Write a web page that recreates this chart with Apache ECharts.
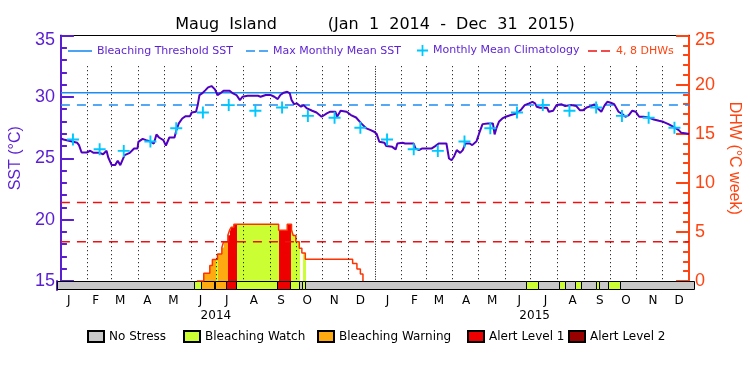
<!DOCTYPE html>
<html><head><meta charset="utf-8">
<script src="https://cdn.jsdelivr.net/npm/echarts@6/dist/echarts.min.js"></script>
<style>html,body{margin:0;padding:0;background:#fff}#c{width:750px;height:375px}</style>
</head><body><div id="c"></div>
<script>
// ---------- data ----------
const titleText = 'Maug  Island          (Jan  1  2014  -  Dec  31  2015)';
const monthLetters = ['J','F','M','A','M','J','J','A','S','O','N','D'];
const monthLengths = [31,28,31,30,31,30,31,31,30,31,30,31];
const years = ['2014','2015'];
const sstTicks = [15,20,25,30,35];
const dhwTicks = [0,5,10,15,20,25];

// SST (day index from Jan 1 2014, deg C)
const sstDays = [0,3,5,13,19,21,24,30,34,38,45,49,53,55,59,63,66,69,74,80,85,89,90,95,99,103,108,111,114,119,122,126,132,134,137,141,145,150,152,157,159,161,164,168,171,175,179,182,185,189,196,200,204,208,211,217,229,232,238,244,248,252,255,259,263,266,268,271,274,279,282,286,292,297,303,309,313,319,321,325,332,337,343,349,355,360,364,367,370,376,378,385,389,391,397,400,410,412,416,420,431,435,439,448,451,454,457,460,464,467,470,475,478,483,486,490,496,502,504,506,509,513,517,523,529,532,535,539,544,548,551,553,557,565,567,572,576,582,586,593,599,603,607,611,616,620,624,628,632,635,639,643,648,653,656,660,664,668,672,677,683,689,695,700,706,712,718,721,727,730];
const sstVals = [26.61,26.53,26.39,26.36,26.26,26.07,25.47,25.47,25.61,25.44,25.44,25.33,25.61,25.06,24.44,24.44,24.79,24.44,25.25,25.44,25.80,25.80,26.34,26.58,26.48,26.39,26.20,26.94,26.69,26.48,26.04,26.69,26.69,27.24,27.84,28.24,28.43,28.43,28.73,28.79,29.33,30.15,30.28,30.55,30.77,30.88,30.61,30.15,30.28,30.50,30.50,30.28,30.15,29.74,30.01,30.09,30.09,30.01,30.15,30.15,30.01,29.82,30.15,30.34,30.42,30.28,29.74,29.41,29.47,29.20,29.33,29.06,28.87,28.73,28.38,28.65,28.79,28.79,28.38,28.87,28.79,28.52,28.32,27.84,27.43,27.29,27.16,26.97,26.34,26.26,25.99,25.93,25.72,26.20,26.26,26.20,26.20,25.80,25.66,25.80,25.80,25.99,26.20,26.20,24.98,24.84,25.17,25.66,25.44,25.66,26.20,26.20,26.07,26.39,27.02,27.78,27.84,27.84,26.94,27.43,27.97,28.24,28.38,28.52,28.65,28.79,28.98,29.33,29.47,29.60,29.47,29.20,29.11,29.11,28.79,28.87,29.33,29.39,29.25,29.33,29.25,28.92,28.92,29.14,29.25,29.39,29.06,28.79,29.33,29.60,29.52,29.41,28.79,28.57,28.38,28.52,28.87,28.79,28.38,28.38,28.32,28.16,28.05,27.97,27.78,27.56,27.29,27.07,27.02,26.97];

// Monthly mean climatology (Jan..Dec), repeated each year
const climatology = [26.53,25.74,25.60,26.36,27.45,28.73,29.33,28.87,29.13,28.45,28.30,27.49];
const maxMonthlyMean = 29.33;
const bleachingThreshold = 30.33;
const dhwGuides = [4, 8];

// Degree Heating Weeks, step values (held from each day until the next)
const dhwDays = [158,166,173,176,182,187,189,194,196,198,201,253,263,268,270,273,277,280,284,339,344,348,351];
const dhwVals = [0,0.78,1.57,2.18,2.76,3.40,4.00,4.66,5.17,5.48,5.79,5.17,5.79,5.17,4.63,4.00,3.34,2.86,2.21,1.77,1.23,0.71,0];

// Stress level segments (0 none,1 watch,2 warning,3 alert1,4 alert2)
const stressStart = [0,158,166,180,182,194,205,253,267,278,281,285,538,551,575,582,594,601,618,621,632,645];
const stressEnd   = [158,166,180,182,194,205,253,267,278,281,285,538,551,575,582,594,601,618,621,632,645,730];
const stressLevel = [0,1,2,1,2,3,1,3,1,0,1,0,1,0,1,0,1,0,1,0,1,0];
const stressNames = ['No Stress','Bleaching Watch','Bleaching Warning','Alert Level 1','Alert Level 2'];

// ---------- styles ----------
const stressColors = ['#c8c8c8','#ccff33','#ffaa11','#ee0000','#990000'];
const PURPLE = '#5a1fd0', LINEP = '#5000c0', BLUE = '#1e8cf0', CYAN = '#00c8ff', RED = '#ee1111', ORANGE = '#ff4411';
const FONT = 'Liberation Sans';
const ICON_SOLID = 'path://M0,-5.2M0,6.8M0,0h24v1.6h-24z';
const ICON_DASH = 'path://M0,-5.2M0,6.8M0,0h9v1.6h-9zM13,0h9v1.6h-9z';

// calendar helpers
const monthStarts = [];
let acc = 0;
for (let y = 0; y < years.length; y++) for (let m = 0; m < 12; m++) { monthStarts.push(acc); acc += monthLengths[m]; }
const totalDays = acc;
const midDays = monthStarts.map(s => s + 14);
const boundaries = monthStarts.slice(1);
const yearMid = years.map((y, i) => i * 365 + 182.5);

const sstData = sstDays.map((d, i) => [d, sstVals[i]]);
const climData = midDays.map((d, i) => [d, climatology[i % 12]]);
const dhwData = dhwDays.map((d, i) => [d, dhwVals[i]]);

// DHW fill pieces coloured by stress level
const fillPieces = [];
for (let i = 0; i < dhwDays.length - 1; i++) {
  const s = dhwDays[i], e = dhwDays[i + 1], v = dhwVals[i];
  if (v <= 0) continue;
  for (let j = 0; j < stressStart.length; j++) {
    const a = Math.max(s, stressStart[j]), b = Math.min(e, stressEnd[j]);
    if (a < b && stressLevel[j] > 0) fillPieces.push([a, b, v, stressLevel[j]]);
  }
}

const chart = echarts.init(document.getElementById('c'), null, {renderer: 'canvas'});

const gridL = 56.5, gridR = 56, gridTop = 35.5, plotBottom = 281, barH = 9;

const hiddenX = {type: 'value', min: 0, max: totalDays, axisLine: {show: false}, axisTick: {show: false}, axisLabel: {show: false}, splitLine: {show: false}};
const topLegendText = {color: PURPLE, fontFamily: 'DejaVu Sans', fontSize: 11};

const option = {
  animation: false,
  backgroundColor: '#fff',
  title: {text: titleText, left: 'center', top: 12, textStyle: {fontFamily: 'DejaVu Sans', fontSize: 16, fontWeight: 'normal', color: '#000'}},
  grid: [
    {left: gridL, right: gridR, top: gridTop, height: plotBottom - gridTop},
    {left: gridL, right: gridR, top: plotBottom, height: barH}
  ],
  legend: [
    {data: [{name: 'Bleaching Threshold SST', icon: ICON_SOLID}], left: 68, top: 45, padding: 0, itemGap: 0, itemWidth: 24, itemHeight: 12, textStyle: topLegendText, selectedMode: false},
    {data: [{name: 'Max Monthly Mean SST', icon: ICON_DASH}], left: 246, top: 45, padding: 0, itemWidth: 22, itemHeight: 12, textStyle: topLegendText, selectedMode: false},
    {data: ['Monthly Mean Climatology'], left: 417, top: 45, padding: 0, itemWidth: 11, itemHeight: 11, textStyle: topLegendText, selectedMode: false},
    {data: [{name: '4, 8 DHWs', icon: ICON_DASH}], left: 588, top: 45, padding: 0, itemWidth: 24, itemHeight: 12, textStyle: {color: ORANGE, fontFamily: 'DejaVu Sans', fontSize: 11}, selectedMode: false}
  ].concat(stressNames.map((n, i) => ({
    data: [n], left: [87, 183, 317, 467, 568][i], top: 330, padding: 0, itemWidth: 16, itemHeight: 11, icon: 'rect',
    textStyle: {color: '#000', fontFamily: 'DejaVu Sans', fontSize: 12}, selectedMode: false
  }))),
  xAxis: [
    Object.assign({}, hiddenX, {gridIndex: 0, position: 'bottom'}),
    Object.assign({}, hiddenX, {gridIndex: 0, position: 'top', axisLine: {show: true, onZero: false, lineStyle: {color: '#000', width: 1}}}),
    Object.assign({}, hiddenX, {gridIndex: 1, position: 'bottom',
      axisLabel: {show: true, customValues: midDays, margin: 5, color: '#000', fontFamily: 'DejaVu Sans', fontSize: 12,
        formatter: v => { const k = midDays.indexOf(v); return k >= 0 ? monthLetters[k % 12] : ''; }}}),
    Object.assign({}, hiddenX, {gridIndex: 1, position: 'bottom',
      axisLabel: {show: true, customValues: yearMid, margin: 20, color: '#000', fontFamily: 'DejaVu Sans', fontSize: 12,
        formatter: v => { const k = yearMid.indexOf(v); return k >= 0 ? years[k] : ''; }}})
  ],
  yAxis: [
    {type: 'value', gridIndex: 0, position: 'left', min: 15, max: 35, interval: 5,
      name: 'SST (°C)', nameLocation: 'middle', nameGap: 33, nameTextStyle: {color: PURPLE, fontFamily: FONT, fontSize: 16},
      axisLine: {show: true, onZero: false, lineStyle: {color: PURPLE, width: 2}},
      axisTick: {show: true, inside: true, length: 13, lineStyle: {color: PURPLE, width: 2}},
      minorTick: {show: true, splitNumber: 5, length: 6, lineStyle: {color: PURPLE, width: 2}},
      axisLabel: {color: PURPLE, fontFamily: FONT, fontSize: 18, margin: 6, customValues: sstTicks,
        formatter: v => v === 35 ? '{t|35}' : String(v),
        rich: {t: {padding: [10, 0, 0, 0], color: PURPLE, fontFamily: FONT, fontSize: 18}}},
      splitLine: {show: false}},
    {type: 'value', gridIndex: 0, position: 'right', min: 0, max: 25, interval: 5,
      name: 'DHW (°C week)', nameLocation: 'middle', nameRotate: -90, nameGap: 30, nameTextStyle: {color: ORANGE, fontFamily: FONT, fontSize: 16},
      axisLine: {show: true, onZero: false, lineStyle: {color: ORANGE, width: 2}},
      axisTick: {show: true, inside: true, length: 13, lineStyle: {color: ORANGE, width: 2}},
      minorTick: {show: true, splitNumber: 5, length: 6, lineStyle: {color: ORANGE, width: 2}},
      axisLabel: {color: ORANGE, fontFamily: FONT, fontSize: 18, margin: 6, customValues: dhwTicks,
        formatter: v => v === 25 ? '{t|25}' : String(v),
        rich: {t: {padding: [10, 0, 0, 0], color: ORANGE, fontFamily: FONT, fontSize: 18}}},
      splitLine: {show: false}},
    {type: 'value', gridIndex: 1, position: 'left', min: 0, max: 1,
      axisLine: {show: true, onZero: false, lineStyle: {color: PURPLE, width: 2}},
      axisTick: {show: false}, axisLabel: {show: false}, splitLine: {show: false}}
  ],
  series: [
    {type: 'custom', name: 'dhwfill', xAxisIndex: 0, yAxisIndex: 1, silent: true, z: 1,
      data: fillPieces, encode: {x: [0, 1], y: 2},
      renderItem: (p, api) => {
        const p1 = api.coord([api.value(0), api.value(2)]), p2 = api.coord([api.value(1), 0]);
        const x1 = Math.round(p1[0]), x2 = Math.round(p2[0]);
        return {type: 'rect', shape: {x: x1, y: p1[1], width: x2 - x1, height: p2[1] - p1[1]}, style: {fill: stressColors[api.value(3)], stroke: null}};
      }},
    {type: 'line', name: 'DHW', xAxisIndex: 0, yAxisIndex: 1, step: 'end', data: dhwData, symbol: 'none', z: 3,
      lineStyle: {color: '#ff3300', width: 1.5}},
    {type: 'line', name: '4, 8 DHWs', xAxisIndex: 0, yAxisIndex: 1, symbol: 'none', z: 4,
      data: [[0, dhwGuides[0]], [totalDays, dhwGuides[0]]], lineStyle: {color: RED, width: 1.5, type: [9, 7]}, itemStyle: {color: RED}},
    {type: 'line', name: '4, 8 DHWs', xAxisIndex: 0, yAxisIndex: 1, symbol: 'none', z: 4,
      data: [[0, dhwGuides[1]], [totalDays, dhwGuides[1]]], lineStyle: {color: RED, width: 1.5, type: [9, 7]}, itemStyle: {color: RED}},
    {type: 'line', name: 'months', xAxisIndex: 0, yAxisIndex: 0, data: [], symbol: 'none', z: 4, silent: true,
      markLine: {silent: true, symbol: 'none', label: {show: false},
        lineStyle: {color: '#000', width: 1, type: [1, 3]},
        data: boundaries.map(d => [{coord: [d, 32.5], lineStyle: d === 365 ? {type: [1, 1.5], width: 1} : undefined}, {coord: [d, 15]}])}},
    {type: 'line', name: 'Bleaching Threshold SST', xAxisIndex: 0, yAxisIndex: 0, symbol: 'none', z: 5,
      data: [[0, bleachingThreshold], [totalDays, bleachingThreshold]], lineStyle: {color: BLUE, width: 1.5}, itemStyle: {color: BLUE}},
    {type: 'line', name: 'Max Monthly Mean SST', xAxisIndex: 0, yAxisIndex: 0, symbol: 'none', z: 5,
      data: [[0, maxMonthlyMean], [totalDays, maxMonthlyMean]], lineStyle: {color: BLUE, width: 1.5, type: [9, 7]}, itemStyle: {color: BLUE}},
    {type: 'line', name: 'SST', xAxisIndex: 0, yAxisIndex: 0, symbol: 'none', z: 6,
      data: sstData, lineStyle: {color: LINEP, width: 2}},
    {type: 'scatter', name: 'Monthly Mean Climatology', xAxisIndex: 0, yAxisIndex: 0, z: 7,
      symbol: 'path://M4.2,0h1.6v4.2h4.2v1.6h-4.2v4.2h-1.6v-4.2h-4.2v-1.6h4.2z', symbolSize: 12,
      data: climData, itemStyle: {color: CYAN, opacity: 1}}
  ].concat(stressNames.map((n, lv) => ({
    type: 'custom', name: n, xAxisIndex: 2, yAxisIndex: 2, z: 2,
    itemStyle: {color: stressColors[lv], borderColor: '#000', borderWidth: 1},
    data: stressStart.map((s, j) => [s, stressEnd[j], stressLevel[j]]).filter(d => d[2] === lv),
    encode: {x: [0, 1]},
    renderItem: (p, api) => {
      const p1 = api.coord([api.value(0), 1]), p2 = api.coord([api.value(1), 0]);
      const x1 = Math.round(p1[0]) + 0.5, x2 = Math.round(p2[0]) + 0.5, y1 = Math.round(p1[1]) + 0.5, y2 = Math.round(p2[1]) - 0.5;
      return {type: 'rect', shape: {x: x1, y: y1, width: x2 - x1, height: y2 - y1}, style: {fill: stressColors[lv], stroke: '#000', lineWidth: 1}};
    }
  })))
};
chart.setOption(option);
</script>
</body></html>
